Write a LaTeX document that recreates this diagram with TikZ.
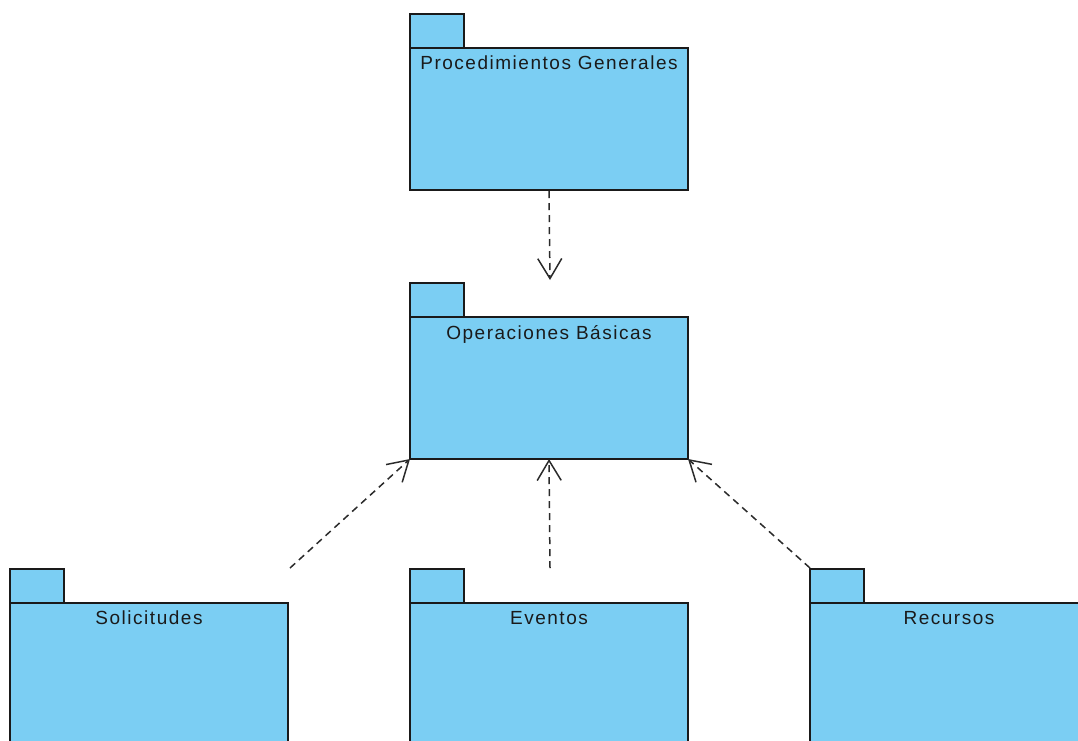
\documentclass[tikz,border=0pt]{standalone}
\usepackage{fontspec}
\newfontfamily\pkgfont[LetterSpace=8]{Liberation Sans}
\usetikzlibrary{arrows.meta}
\definecolor{pkgfill}{HTML}{7BCEF3}
\definecolor{pkgline}{HTML}{1A1A1A}
\definecolor{deparrow}{HTML}{2A2A2A}
\tikzset{
  pkgbody/.style={draw=pkgline, fill=pkgfill, line width=1.5pt, rectangle,
    anchor=north west, minimum width=278pt, minimum height=142pt,
    inner sep=0pt, outer sep=0pt},
  pkgtab/.style={draw=pkgline, fill=pkgfill, line width=1.5pt, rectangle,
    anchor=south west, minimum width=54pt, minimum height=34pt,
    inner sep=0pt, outer sep=0pt},
  pkglabel/.style={anchor=north, font=\pkgfont\fontsize{19}{21}\selectfont,
    text=pkgline, inner sep=0pt, yshift=-8pt},
  dependency/.style={draw=deparrow, line width=1.5pt,
    dash pattern=on 7pt off 5pt,
    -{Straight Barb[length=20pt,width=24pt,line width=1.5pt]}}
}
\newcommand{\umlpackage}[4]{%
  \node[pkgbody] (#1) at (#2,#3) {};
  \node[pkgtab] (#1tab) at (#1.north west) {};
  \node[pkglabel] (#1label) at (#1.north) {#4};
}
\begin{document}
\begin{tikzpicture}[x=1pt,y=-1pt]
  \useasboundingbox (0,0) rectangle (1078,740);
  \umlpackage{proc}{410}{48}{Procedimientos Generales}
  \umlpackage{oper}{410}{317}{Operaciones Básicas}
  \umlpackage{soli}{10}{603}{Solicitudes}
  \umlpackage{even}{410}{603}{Eventos}
  \umlpackage{recu}{810}{603}{Recursos}

  % dependency arrows; free ends sit a little off the client packages
  \coordinate (procfoot) at ([yshift=-1pt]proc.south);
  \coordinate (opertop) at (550,280);
  \coordinate (solifoot) at (290,568);
  \coordinate (evenfoot) at (550,568);
  \coordinate (recufoot) at (810,568);
  \draw[dependency] (procfoot) -- (opertop);
  \draw[dependency] (solifoot) -- (oper.south west);
  \draw[dependency] (evenfoot) -- (oper.south);
  \draw[dependency] (recufoot) -- (oper.south east);
\end{tikzpicture}
\end{document}
